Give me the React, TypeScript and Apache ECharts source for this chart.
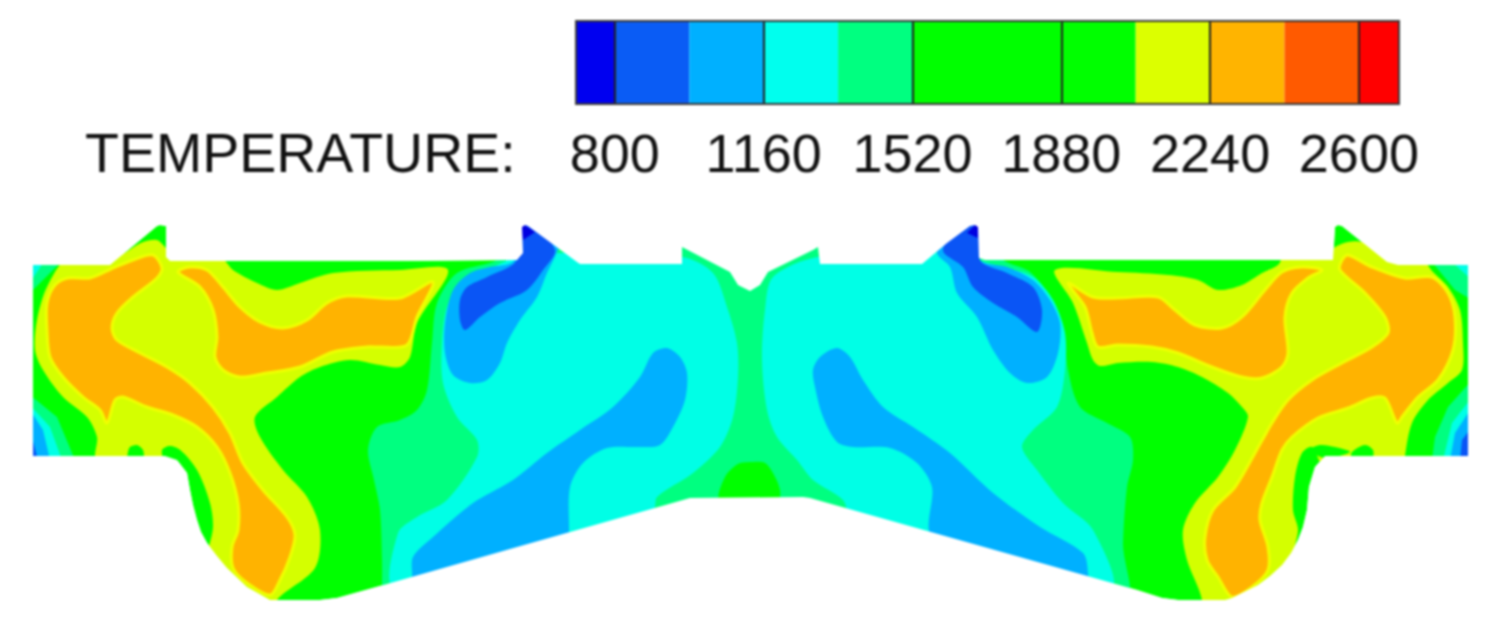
import React, { useEffect, useRef } from "react";
import * as echarts from "echarts";

type P = number[][];

const tempTicks = [800, 1160, 1520, 1880, 2240, 2600];
const bandEdges = [706, 800, 980, 1160, 1340, 1520, 1880, 2060, 2240, 2420, 2600, 2697];
const bandColors = ["#0000f0", "#0a5cf5", "#00b0ff", "#00ffee", "#00ff80", "#00ff00", "#00ff00", "#dcff00", "#ffb400", "#ff5a00", "#ff0000"];

const outline: P = [[33,265],[110,265],[157,226],[160,225],[166,226],[166,257],[170,261],[400,261],[517,260],[523,253],[522,227],[525,225],[528,226],[577,262],[580,264],[682,264],[682,247],[730,272],[738,285],[750,291],[760,285],[768,272],[813,250],[818,247],[820,264],[922,264],[947,243],[970,226],[975,225],[978,227],[979,258],[985,260],[1333,260],[1335,227],[1338,225],[1342,226],[1387,262],[1398,265],[1468,265],[1468,456],[1325,456],[1315,467],[1309,487],[1307,510],[1303,527],[1298,540],[1291,553],[1282,565],[1270,576],[1258,585],[1232,598],[1225,600],[1178,600],[1162,598],[1137,590],[810,498],[803,497],[690,498],[380,586],[337,598],[320,600],[270,600],[247,587],[227,568],[217,556],[207,543],[201,532],[197,520],[193,505],[190,490],[187,473],[177,460],[165,456],[33,456]];

const springCenter: P = [[382,610],[382,593],[382,560],[380,510],[374,480],[368,450],[377,427],[400,420],[417,410],[427,390],[432,343],[437,303],[457,273],[493,262],[517,250],[700,230],[1000,250],[1003,260],[1030,272],[1050,297],[1063,327],[1068,370],[1080,407],[1107,423],[1130,437],[1133,460],[1127,487],[1123,543],[1123,610]];

const yellowLeft: P = [[68,258],[110,260],[143,242],[157,240],[165,247],[170,253],[220,257],[233,270],[257,283],[277,290],[300,283],[333,273],[400,270],[448,270],[417,323],[410,357],[400,367],[380,365],[350,360],[320,367],[300,377],[277,397],[255,417],[260,437],[283,470],[307,497],[320,530],[315,568],[277,600],[283,610],[233,610],[200,577],[208,550],[213,527],[210,503],[197,470],[180,450],[167,447],[165,460],[97,460],[97,437],[87,417],[63,397],[43,370],[35,350],[37,320],[47,287]];
const yellowRight: P = [[1055,270],[1118,272],[1168,275],[1198,280],[1218,290],[1242,285],[1262,273],[1278,265],[1285,255],[1333,250],[1335,247],[1348,242],[1362,242],[1387,255],[1418,255],[1433,272],[1448,287],[1460,310],[1463,343],[1462,370],[1448,383],[1428,400],[1412,423],[1405,456],[1405,467],[1325,467],[1312,447],[1302,453],[1295,477],[1293,510],[1298,530],[1292,557],[1285,610],[1195,610],[1202,600],[1187,560],[1183,530],[1195,503],[1218,477],[1235,450],[1248,417],[1242,407],[1228,393],[1202,377],[1178,367],[1152,362],[1118,363],[1100,366],[1093,360],[1087,343],[1073,303]];

const orangeLeftMain: P = [[153,255],[162,268],[157,278],[133,297],[117,313],[112,328],[117,340],[140,353],[167,367],[190,383],[213,407],[230,433],[243,463],[263,490],[287,517],[295,535],[290,557],[280,580],[270,595],[247,583],[233,568],[232,547],[238,530],[238,503],[230,473],[217,447],[197,427],[173,415],[147,407],[123,397],[115,400],[107,423],[100,410],[83,397],[63,377],[50,357],[47,330],[47,303],[55,285],[68,278],[90,278],[113,268],[133,260]];
const orangeLeftBand: P = [[178,272],[190,267],[207,270],[223,287],[240,307],[260,322],[283,328],[307,320],[327,303],[347,296],[400,298],[433,282],[417,317],[407,345],[380,347],[367,347],[333,352],[300,367],[267,373],[240,377],[223,370],[215,357],[217,337],[213,310],[200,287]];
const orangeRightBand: P = [[1068,283],[1093,297],[1118,298],[1158,297],[1175,310],[1195,325],[1222,328],[1242,317],[1265,290],[1282,272],[1302,267],[1322,270],[1308,278],[1292,293],[1285,317],[1288,353],[1282,367],[1262,378],[1242,377],[1212,367],[1178,353],[1152,347],[1118,345],[1098,347],[1092,333],[1085,307]];
const orangeRightMain: P = [[1348,255],[1372,267],[1405,278],[1432,277],[1448,293],[1455,317],[1453,350],[1438,380],[1418,397],[1402,417],[1397,423],[1385,398],[1372,398],[1348,408],[1318,418],[1292,437],[1282,450],[1272,477],[1262,503],[1260,520],[1268,547],[1268,570],[1252,587],[1232,597],[1218,577],[1207,560],[1205,537],[1213,510],[1235,487],[1255,453],[1272,423],[1288,400],[1312,380],[1342,363],[1372,347],[1388,333],[1385,317],[1365,293],[1340,270],[1342,260]];

const cyanLeft: P = [[395,587],[398,533],[417,517],[447,500],[477,457],[477,440],[457,417],[443,383],[442,343],[447,307],[463,280],[493,267],[517,257],[567,253],[682,257],[713,273],[727,307],[737,343],[738,377],[733,417],[720,447],[693,473],[657,497],[653,510]];
const cyanRight: P = [[818,257],[773,277],[765,310],[762,360],[767,410],[777,437],[797,460],[813,480],[843,500],[853,523],[1110,587],[1093,530],[1063,503],[1037,470],[1022,447],[1033,430],[1057,407],[1065,370],[1065,333],[1053,300],[1033,277],[1003,267],[980,260],[978,253],[920,253]];

const blueUpperLeft: P = [[557,252],[547,273],[537,297],[520,320],[507,343],[500,363],[487,380],[470,383],[453,375],[445,353],[445,323],[453,290],[470,273],[490,267],[513,262],[520,240],[560,240]];
const blueLowerLeft: P = [[412,577],[413,557],[433,537],[473,503],[513,480],[547,453],[580,430],[613,407],[640,377],[653,353],[667,348],[680,357],[687,373],[685,400],[673,427],[660,445],[640,447],[607,448],[583,463],[570,487],[569,530],[569,553],[410,587]];
const blueUpperRight: P = [[937,253],[950,267],[957,293],[977,317],[993,350],[1010,373],[1027,383],[1047,377],[1058,353],[1060,323],[1050,300],[1033,280],[1007,267],[980,260],[978,225],[945,235]];
const blueLowerRight: P = [[813,370],[820,357],[837,348],[850,357],[863,380],[883,407],[913,427],[950,453],[993,493],[1040,527],[1083,553],[1088,573],[1087,590],[933,537],[932,487],[917,463],[890,448],[853,447],[837,442],[823,417],[815,387]];

const darkLeft: P = [[515,220],[530,220],[555,250],[543,270],[527,290],[500,303],[480,317],[465,330],[460,320],[460,300],[467,287],[487,277],[517,260]];
const darkRight: P = [[943,250],[965,220],[982,220],[980,260],[1007,273],[1033,287],[1042,310],[1037,332],[1017,317],[993,303],[973,287],[963,267]];
const navyLeft: P = [[520,222],[535,232],[523,240]];
const navyRight: P = [[967,233],[978,222],[978,238]];

const blobCenter: P = [[720,500],[725,477],[738,464],[753,462],[765,463],[773,473],[780,490],[778,500]];
const blobLeftA: P = [[128,452],[130,447],[137,445],[143,450],[143,458],[128,458]];
const blobLeftB: P = [[162,450],[170,446],[180,450],[186,460],[165,460]];
const blobRightA: P = [[1352,452],[1365,445],[1373,450],[1372,458],[1352,458]];
const blobRightB: P = [[1310,450],[1320,445],[1335,447],[1350,452],[1325,458]];

const edgeLeftSpring: P = [[30,395],[57,417],[75,460],[30,460]];
const edgeLeftCyan: P = [[30,405],[50,427],[62,460],[30,460]];
const edgeLeftBlue: P = [[30,410],[43,430],[50,460],[30,460]];
const edgeLeftDark: P = [[30,430],[38,460],[30,460]];
const topLeftSpring: P = [[30,260],[63,260],[45,278],[33,290],[30,290]];
const topLeftCyan: P = [[30,260],[45,260],[33,278],[30,278]];
const edgeRightSpring: P = [[1472,380],[1448,407],[1435,437],[1432,460],[1472,460]];
const edgeRightCyan: P = [[1472,397],[1452,423],[1443,460],[1472,460]];
const edgeRightBlue: P = [[1472,407],[1455,433],[1450,460],[1472,460]];
const edgeRightDark: P = [[1472,427],[1462,440],[1460,460],[1472,460]];
const topRightSpring: P = [[1432,262],[1455,290],[1472,300],[1472,262]];
const topRightCyan: P = [[1452,262],[1472,280],[1472,262]];

const GREEN = "#00ff00", SPRING = "#00ff80", CYAN = "#00ffe6", BLUE = "#00b0ff", DARK = "#0a55f5", NAVY = "#0000e0", YELLOW = "#d4ff00", ORANGE = "#ffb300";

const layers: { pts: P; color: string; edge?: string; sharp?: boolean }[] = [
  { pts: outline, color: GREEN, sharp: true },
  { pts: springCenter, color: SPRING },
  { pts: yellowLeft, color: YELLOW },
  { pts: yellowRight, color: YELLOW },
  { pts: orangeLeftMain, color: ORANGE, edge: "#f0ff00" },
  { pts: orangeLeftBand, color: ORANGE, edge: "#f0ff00" },
  { pts: orangeRightBand, color: ORANGE, edge: "#f0ff00" },
  { pts: orangeRightMain, color: ORANGE, edge: "#f0ff00" },
  { pts: blobLeftA, color: GREEN },
  { pts: blobLeftB, color: GREEN },
  { pts: blobRightA, color: GREEN },
  { pts: blobRightB, color: GREEN },
  { pts: cyanLeft, color: CYAN },
  { pts: cyanRight, color: CYAN },
  { pts: blueUpperLeft, color: BLUE },
  { pts: blueLowerLeft, color: BLUE },
  { pts: blueUpperRight, color: BLUE },
  { pts: blueLowerRight, color: BLUE },
  { pts: darkLeft, color: DARK },
  { pts: darkRight, color: DARK },
  { pts: navyLeft, color: NAVY, sharp: true },
  { pts: navyRight, color: NAVY, sharp: true },
  { pts: blobCenter, color: GREEN },
  { pts: edgeLeftSpring, color: SPRING, sharp: true },
  { pts: edgeLeftCyan, color: CYAN, sharp: true },
  { pts: edgeLeftBlue, color: BLUE, sharp: true },
  { pts: edgeLeftDark, color: DARK, sharp: true },
  { pts: topLeftSpring, color: SPRING, sharp: true },
  { pts: topLeftCyan, color: CYAN, sharp: true },
  { pts: edgeRightSpring, color: SPRING, sharp: true },
  { pts: edgeRightCyan, color: CYAN, sharp: true },
  { pts: edgeRightBlue, color: BLUE, sharp: true },
  { pts: edgeRightDark, color: DARK, sharp: true },
  { pts: topRightSpring, color: SPRING, sharp: true },
  { pts: topRightCyan, color: CYAN, sharp: true },
  {
    pts: [[0, 265], ...outline, [33, 265], [0, 265], [0, 625], [1485, 625], [1485, 205], [0, 205]],
    color: "#ffffff",
    sharp: true,
  },
];

export default function App() {
  const ref = useRef<HTMLDivElement>(null);
  useEffect(() => {
    const chart = echarts.init(ref.current!, undefined, { renderer: "svg" });
    chart.setOption({
      animation: false,
      backgroundColor: "#ffffff",
      title: {
        text: "TEMPERATURE:",
        left: 80,
        top: 120,
        textStyle: { fontFamily: "Liberation Sans", fontWeight: "normal", fontSize: 55.5, color: "#111111" },
      },
      grid: [
        { left: 0, right: 0, top: 0, bottom: 0 },
        { left: 576, width: 823, top: 21, height: 83 },
      ],
      xAxis: [
        { gridIndex: 0, type: "value", min: 0, max: 1485, show: false },
        {
          gridIndex: 1,
          type: "value",
          min: bandEdges[0],
          max: bandEdges[bandEdges.length - 1],
          position: "bottom",
          z: 10,
          splitLine: { show: false },
          axisLine: { show: false },
          axisTick: { show: true, customValues: tempTicks, inside: true, length: 83, lineStyle: { color: "#222", width: 2 } },
          axisLabel: {
            customValues: tempTicks,
            margin: 22,
            fontFamily: "Liberation Sans",
            fontSize: 54,
            color: "#111111",
            formatter: (v: number) => String(v),
          },
        },
      ],
      yAxis: [
        { gridIndex: 0, type: "value", min: 0, max: 625, inverse: true, show: false },
        { gridIndex: 1, type: "value", min: 0, max: 1, show: false },
      ],
      series: [
        {
          type: "custom",
          xAxisIndex: 0,
          yAxisIndex: 0,
          clip: false,
          silent: true,
          data: layers.map((_, i) => [i]),
          renderItem: (_p: any, api: any) => {
            const l = layers[api.value(0)];
            return {
              type: "polygon",
              shape: { points: l.pts.map((q) => api.coord(q)), smooth: l.sharp ? 0 : 0.3 },
              style: { fill: l.color, stroke: l.edge ?? "none", lineWidth: l.edge ? 3 : 0 },
            };
          },
        },
        {
          type: "custom",
          xAxisIndex: 1,
          yAxisIndex: 1,
          silent: true,
          data: bandColors.map((_, i) => [bandEdges[i], bandEdges[i + 1], i]),
          renderItem: (_p: any, api: any) => {
            const a = api.coord([api.value(0), 1]);
            const b = api.coord([api.value(1), 0]);
            return {
              type: "rect",
              shape: { x: a[0], y: a[1], width: b[0] - a[0], height: b[1] - a[1] },
              style: { fill: bandColors[api.value(2)] },
            };
          },
        },
        {
          type: "custom",
          xAxisIndex: 1,
          yAxisIndex: 1,
          silent: true,
          z: 12,
          data: [[bandEdges[0], bandEdges[bandEdges.length - 1]]],
          renderItem: (_p: any, api: any) => {
            const a = api.coord([api.value(0), 1]);
            const b = api.coord([api.value(1), 0]);
            return {
              type: "rect",
              shape: { x: a[0], y: a[1], width: b[0] - a[0], height: b[1] - a[1] },
              style: { fill: "none", stroke: "#3a3a3a", lineWidth: 2 },
            };
          },
        },
      ],
    });
    return () => chart.dispose();
  }, []);
  return (
    <div
      ref={ref}
      style={{ position: "fixed", left: 0, top: 0, width: 1485, height: 625, filter: "blur(1px)" }}
    />
  );
}
